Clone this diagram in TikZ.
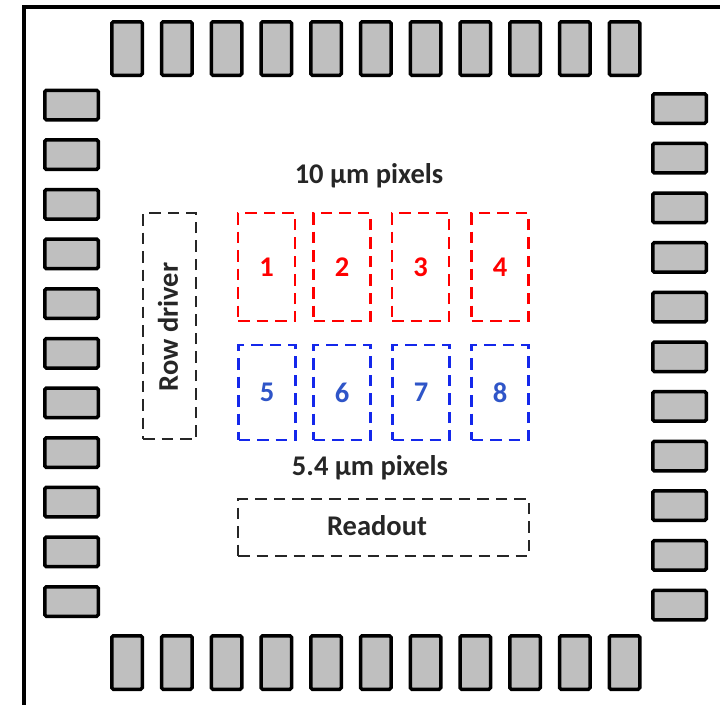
\documentclass[tikz,border=0pt]{standalone}
\usepackage{fontspec}
\setmainfont{Carlito}
\definecolor{padgray}{RGB}{191,191,191}
\definecolor{txtblack}{RGB}{38,38,38}
\definecolor{pixred}{RGB}{255,0,0}
\definecolor{pixblue}{RGB}{20,40,235}
\definecolor{txtblue}{RGB}{47,85,200}
\begin{document}
\begin{tikzpicture}[x=1pt,y=-1pt,
  pad/.style={draw=black,fill=padgray,line width=3.5pt,rounded corners=1.5pt,inner sep=0pt},
  vpad/.style={pad,minimum width=30.5pt,minimum height=53.5pt},
  hpad/.style={pad,minimum width=53.5pt,minimum height=29.5pt},
  dbox/.style={draw,line width=2.7pt,dash pattern=on 11.5pt off 7pt,inner sep=0pt},
  lbl/.style={font=\bfseries\fontsize{28.5}{28.5}\selectfont,text=txtblack,inner sep=0pt},
  redbox/.style={dbox,draw=pixred,minimum width=57pt,minimum height=108pt,
    font=\bfseries\fontsize{28.5}{28.5}\selectfont,text=pixred},
  bluebox/.style={dbox,draw=pixblue,minimum width=57pt,minimum height=95pt,
    font=\bfseries\fontsize{28.5}{28.5}\selectfont,text=txtblue}]
\useasboundingbox (0,0) rectangle (720,704);
\fill[white] (0,0) rectangle (720,704);
% frame
\coordinate (fa) at (24,720);
\coordinate (fb) at (24,7);
\coordinate (fc) at (730,7);
\draw[line width=3.6pt] (fa) -- (fb) -- (fc);
% pads
\foreach \i in {0,...,10}{
  \node[vpad] (top\i) at ({127+49.75*\i},48.5) {};
  \node[vpad] (bot\i) at ({127+49.75*\i},662.5) {};
  \node[hpad] (left\i) at (71.5,{105+49.65*\i}) {};
  \node[hpad] (right\i) at (679.5,{108.5+49.65*\i}) {};
}
% row driver
\node[dbox,draw=txtblack,minimum width=53pt,minimum height=226pt] (rowdrv) at (169.5,326) {};
\node[lbl,rotate=90] (rowtxt) at (168,327) {Row driver};
% pixels
\node[redbox] (p1) at (266.5,267) {1};
\node[redbox] (p2) at (342,267) {2};
\node[redbox] (p3) at (420.5,267) {3};
\node[redbox] (p4) at (500,267) {4};
\node[bluebox] (p5) at (267,392.5) {5};
\node[bluebox] (p6) at (342,392.5) {6};
\node[bluebox] (p7) at (421,392.5) {7};
\node[bluebox] (p8) at (500,392.5) {8};
\node[lbl] (t10) at (369,176) {10 µm pixels};
\node[lbl] (t54) at (370,468) {5.4 µm pixels};
% readout
\node[dbox,draw=txtblack,minimum width=291pt,minimum height=57pt] (readout) at (383.5,527.5) {};
\node[lbl] (rtxt) at (377,526) {Readout};
\end{tikzpicture}
\end{document}
